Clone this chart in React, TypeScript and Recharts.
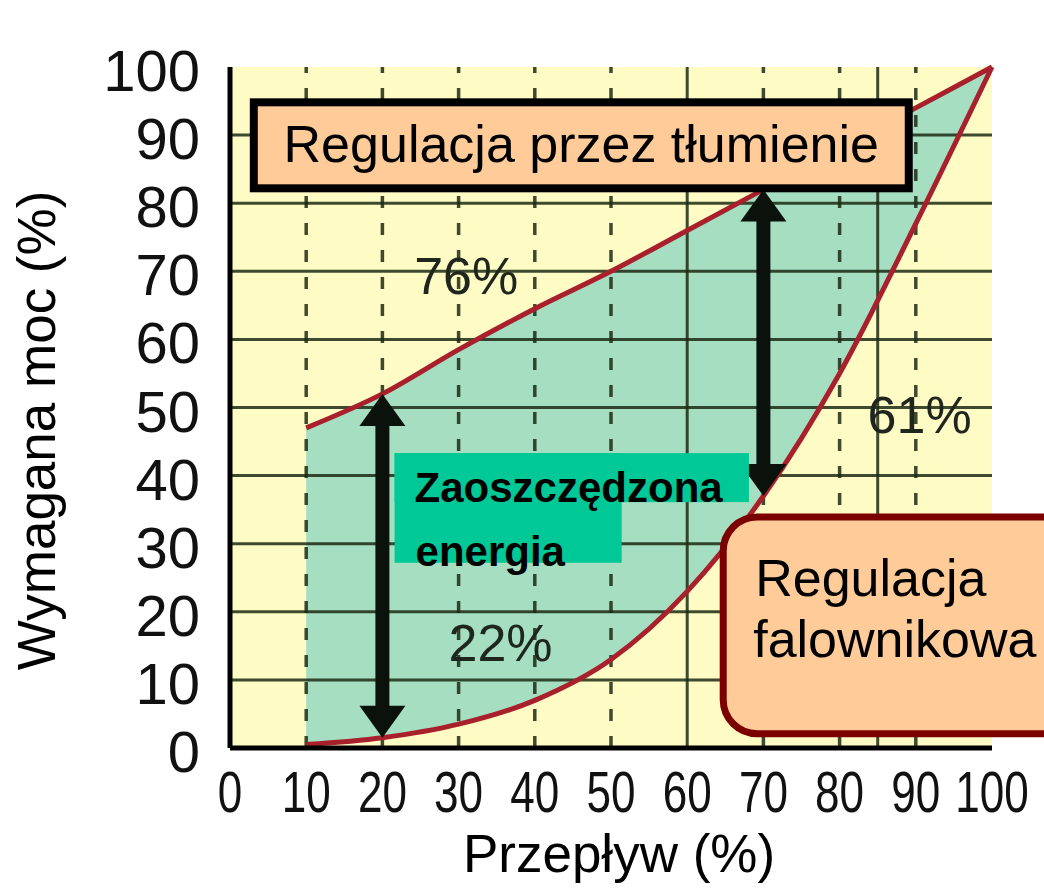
import {
  Area,
  CartesianGrid,
  ComposedChart,
  Label,
  Line,
  ReferenceArea,
  ReferenceDot,
  ReferenceLine,
  XAxis,
  YAxis,
} from "recharts"

const flow = [10, 20, 30, 40, 50, 60, 70, 80, 90, 100]
const throttling = [47, 52, 58.5, 64.5, 70, 76, 82, 88, 94, 100]
const inverter = [0.5, 1.5, 3.5, 7, 13, 23, 37, 55, 77, 100]
const axisTicks = [0, 10, 20, 30, 40, 50, 60, 70, 80, 90, 100]
const dashedGridX = [10, 20, 30, 40, 50, 70, 80, 90]
const solidGridX = [60, 85]
const gridY = [10, 20, 30, 40, 50, 60, 70, 80, 90]
const arrowX = [20, 70]
const percentLabels = [
  { x: 31, y: 69.5, text: "76%" },
  { x: 35.5, y: 15.5, text: "22%" },
  { x: 90.5, y: 49, text: "61%" },
]

const data = flow.map((x, i) => ({
  x,
  upper: throttling[i],
  lower: inverter[i],
  band: [inverter[i], throttling[i]],
}))

const FONT = "'Liberation Sans', Arial, sans-serif"
const CURVE = "#a8202c"
const GRID = "#1c2a14"

const YTick = ({ x, y, payload }: any) => (
  <text x={x - 22} y={y + 24} textAnchor="end" fontSize={58} fontFamily={FONT} fill="#111">
    {payload.value}
  </text>
)

const XTick = ({ x, y, payload }: any) => (
  <g transform={`translate(${x},${y + 56}) scale(0.76,1)`}>
    <text x={0} y={0} textAnchor="middle" fontSize={58} fontFamily={FONT} fill="#111">
      {payload.value}
    </text>
  </g>
)

const Arrow = ({ x1, y1, x2, y2 }: any) => {
  const top = Math.min(y1, y2)
  const bottom = Math.max(y1, y2)
  const head = 32
  return (
    <g fill="#0b120c">
      <rect x={x1 - 7} y={top + head - 2} width={14} height={bottom - top - 2 * head + 4} />
      <path d={`M${x1},${top} L${x1 + 23},${top + head} L${x1 - 23},${top + head} Z`} />
      <path d={`M${x1},${bottom} L${x1 + 23},${bottom - head} L${x1 - 23},${bottom - head} Z`} />
    </g>
  )
}

const DampBox = ({ x, y, width, height }: any) => (
  <g>
    <rect x={x + 4} y={y + 4} width={width - 8} height={height - 8} fill="#ffcc99" stroke="#000" strokeWidth={8} />
    <text x={x + width / 2} y={y + 64} textAnchor="middle" fontSize={52} fontFamily={FONT} fill="#000">
      Regulacja przez tłumienie
    </text>
  </g>
)

const InverterBox = ({ x, y, width, height }: any) => (
  <g>
    <rect
      x={x + 4}
      y={y + 4}
      width={width - 8}
      height={height - 8}
      rx={34}
      ry={34}
      fill="#ffcc99"
      stroke="#7b0000"
      strokeWidth={7}
    />
    <text x={x + 36} y={y + 83} fontSize={52} fontFamily={FONT} fill="#000">
      Regulacja
    </text>
    <text x={x + 34} y={y + 144} fontSize={52} fontFamily={FONT} fill="#000">
      falownikowa
    </text>
  </g>
)

const SavedBlock = ({ x, y, width, height }: any) => (
  <rect x={x} y={y} width={width} height={height} fill="#00c896" />
)

const SavedBar = ({ x, y, width, height }: any) => (
  <g>
    <rect x={x} y={y} width={width} height={height} fill="#00c896" />
    <text x={x + 20} y={y + 49} fontSize={42} fontWeight="bold" fontFamily={FONT} fill="#000">
      Zaoszczędzona
    </text>
    <text x={x + 21} y={y + 113} fontSize={42} fontWeight="bold" fontFamily={FONT} fill="#000">
      energia
    </text>
  </g>
)

const PercentText = ({ cx, cy, text }: any) => (
  <text x={cx} y={cy + 19} textAnchor="middle" fontSize={52} fontFamily={FONT} fill="#1e261e">
    {text}
  </text>
)

export default function App() {
  return (
    <div style={{ position: "absolute", left: 0, top: 0, width: 1044, height: 888, background: "#fff", overflow: "hidden" }}>
      <ComposedChart width={1044} height={888} data={data} margin={{ top: 67, right: 52, bottom: 0, left: 0 }}>
        <CartesianGrid horizontal={false} vertical={false} fill="#fffbc4" />
        <XAxis
          type="number"
          dataKey="x"
          domain={[0, 100]}
          ticks={axisTicks}
          height={140}
          tickLine={false}
          axisLine={{ stroke: "#000", strokeWidth: 5 }}
          tick={<XTick />}
          interval={0}
        >
          <Label
            content={({ viewBox }: any) => (
              <text
                x={viewBox.x + viewBox.width / 2 + 8}
                y={viewBox.y + 124}
                textAnchor="middle"
                fontSize={53}
                fontFamily={FONT}
                fill="#000"
              >
                Przepływ (%)
              </text>
            )}
          />
        </XAxis>
        <YAxis
          type="number"
          domain={[0, 100]}
          ticks={axisTicks}
          width={230}
          tickLine={false}
          axisLine={{ stroke: "#000", strokeWidth: 5 }}
          tick={<YTick />}
          interval={0}
        >
          <Label
            content={({ viewBox }: any) => {
              const cx = viewBox.x + 55
              const cy = viewBox.y + viewBox.height / 2 + 23
              return (
                <text
                  x={cx}
                  y={cy}
                  transform={`rotate(-90, ${cx}, ${cy})`}
                  textAnchor="middle"
                  fontSize={53}
                  fontFamily={FONT}
                  fill="#000"
                >
                  Wymagana moc (%)
                </text>
              )
            }}
          />
        </YAxis>

        <Area
          type="monotone"
          dataKey="band"
          fill="#a6dec1"
          fillOpacity={1}
          stroke="none"
          isAnimationActive={false}
        />

        {gridY.map((v) => (
          <ReferenceLine key={`gy-${v}`} y={v} stroke={GRID} strokeOpacity={0.85} strokeWidth={3} zIndex={150} />
        ))}
        {dashedGridX.map((v) => (
          <ReferenceLine
            key={`gx-${v}`}
            x={v}
            stroke={GRID}
            strokeOpacity={0.85}
            strokeWidth={3.5}
            strokeDasharray="12 15"
            zIndex={150}
          />
        ))}
        {solidGridX.map((v) => (
          <ReferenceLine key={`sx-${v}`} x={v} stroke={GRID} strokeOpacity={0.85} strokeWidth={3} zIndex={150} />
        ))}

        <Line
          type="monotone"
          dataKey="upper"
          stroke={CURVE}
          strokeWidth={5}
          dot={false}
          isAnimationActive={false}
        />
        <Line
          type="monotone"
          dataKey="lower"
          stroke={CURVE}
          strokeWidth={5}
          dot={false}
          isAnimationActive={false}
        />

        {arrowX.map((x) => {
          const i = flow.indexOf(x)
          return (
            <ReferenceLine
              key={`arrow-${x}`}
              segment={[
                { x, y: inverter[i] },
                { x, y: throttling[i] },
              ]}
              shape={<Arrow />}
              zIndex={1400}
            />
          )
        })}

        {percentLabels.map((p) => (
          <ReferenceDot
            key={p.text}
            x={p.x}
            y={p.y}
            r={0}
            shape={(props: any) => <PercentText {...props} text={p.text} />}
            zIndex={1450}
          />
        ))}

        <ReferenceArea x1={2.6} x2={89.6} y1={81.6} y2={95.4} shape={<DampBox />} zIndex={1500} />
        <ReferenceArea x1={21.6} x2={51.4} y1={27.2} y2={43.3} shape={<SavedBlock />} zIndex={1500} />
        <ReferenceArea x1={21.6} x2={68.1} y1={36.1} y2={43.3} shape={<SavedBar />} zIndex={1500} />
        <ReferenceArea
          x1={64.2}
          x2={112}
          y1={1.5}
          y2={34.5}
          ifOverflow="visible"
          shape={<InverterBox />}
          zIndex={1500}
        />
      </ComposedChart>
    </div>
  )
}
